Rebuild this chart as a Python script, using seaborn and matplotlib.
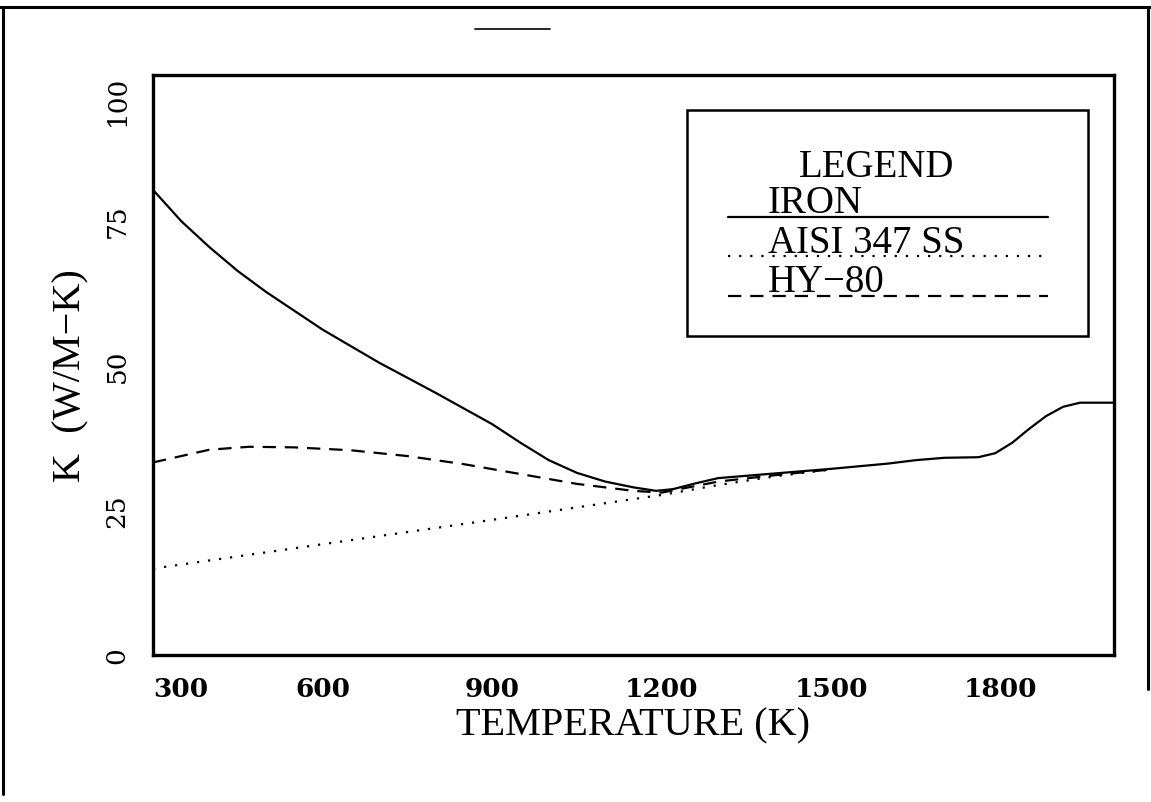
import numpy as np
import pandas as pd
import matplotlib
matplotlib.use("Agg")
import matplotlib.pyplot as plt
from matplotlib.lines import Line2D
from matplotlib.patches import Rectangle
import seaborn as sns

# ---- data ----
iron_T = [300, 350, 400, 450, 500, 600, 700, 800, 900, 950, 1000, 1050, 1100, 1150,
          1190, 1220, 1260, 1300, 1400, 1500, 1600, 1650, 1700, 1760, 1790,
          1820, 1850, 1880, 1910, 1940, 2000]
iron_K = [80.2, 74.8, 70.3, 66.2, 62.6, 56.1, 50.4, 45.2, 39.8, 36.6, 33.6, 31.4, 29.9, 28.9,
          28.3, 28.6, 29.6, 30.5, 31.3, 32.1, 33.0, 33.6, 34.0, 34.1, 34.8,
          36.6, 39.0, 41.2, 42.8, 43.5, 43.5]
aisi_T = [300, 600, 900, 1200, 1300, 1400, 1500]
aisi_K = [14.9, 19.1, 23.3, 27.6, 29.3, 30.8, 32.0]
hy80_T = [300, 400, 470, 550, 650, 750, 850, 950, 1050, 1150, 1200, 1300, 1400, 1500]
hy80_K = [33.2, 35.4, 35.9, 35.8, 35.3, 34.3, 32.9, 31.2, 29.5, 28.3, 28.0, 29.9, 31.0, 32.0]

x_ticks = [300, 600, 900, 1200, 1500, 1800]
y_ticks = [0, 25, 50, 75, 100]
legend_names = ["IRON", "AISI 347 SS", "HY-80"]

sns.set_theme(style="white")
plt.rcParams["font.family"] = ["DejaVu Serif"]
plt.rcParams["text.color"] = "black"
plt.rcParams["axes.labelcolor"] = "black"
plt.rcParams["xtick.color"] = "black"
plt.rcParams["ytick.color"] = "black"

fig = plt.figure(figsize=(11.51, 8.03), dpi=100)
ax = fig.add_axes([153/1151, 1-656/803, (1114-153)/1151, (656-76)/803])

lw = 1.6
sns.lineplot(data=pd.DataFrame({"T": iron_T, "K": iron_K}), x="T", y="K", ax=ax,
             color="black", lw=lw, estimator=None, sort=False)
sns.lineplot(data=pd.DataFrame({"T": aisi_T, "K": aisi_K}), x="T", y="K", ax=ax,
             color="black", lw=lw, estimator=None, sort=False, linestyle=(0, (1, 4)))
sns.lineplot(data=pd.DataFrame({"T": hy80_T, "K": hy80_K}), x="T", y="K", ax=ax,
             color="black", lw=lw, estimator=None, sort=False, linestyle=(0, (6, 4)))

ax.set_xlim(300, 2000)
ax.set_ylim(0, 100)
ax.set_xticks(x_ticks)
ax.set_yticks(y_ticks)
ax.set_xticklabels([str(t) for t in x_ticks], fontsize=19, fontweight="bold", color="black")
ax.set_yticklabels([str(t) for t in y_ticks], fontsize=19, rotation=90, va="center", color="black")
ax.get_xticklabels()[0].set_horizontalalignment("left")
ax.get_yticklabels()[-1].set_verticalalignment("top")
ax.tick_params(axis="both", direction="out", length=10, width=1.6, color="black")
ax.tick_params(axis="x", pad=5)
ax.tick_params(axis="y", pad=7)
for s in ax.spines.values():
    s.set_visible(True)
    s.set_color("black")
    s.set_linewidth(2.4)

ax.set_xlabel("TEMPERATURE (K)", fontsize=29, family="Liberation Serif", labelpad=4, color="black")
ax.set_ylabel("K  (W/M\u2212K)", fontsize=29, family="Liberation Serif", labelpad=2, color="black")
ax.yaxis.set_label_coords(-0.066, 0.483)

# legend box (drawn like the original)
ax.add_patch(Rectangle((0.5557, 0.55), 0.973-0.5557, 0.9397-0.55, transform=ax.transAxes,
                       fill=False, edgecolor="black", lw=1.8, zorder=5))
tf = dict(transform=ax.transAxes, family="Liberation Serif", fontsize=28, color="black")
ax.text(0.7534, 0.826, "LEGEND", ha="center", va="baseline", **tf)
ax.text(0.64, 0.7638, legend_names[0], ha="left", va="baseline", **tf)
ax.text(0.64, 0.6948, legend_names[1], ha="left", va="baseline", **tf)
ax.text(0.64, 0.6276, legend_names[2].replace("-", "\u2212"), ha="left", va="baseline", **tf)
ax.add_line(Line2D([0.598, 0.931], [0.7552, 0.7552], transform=ax.transAxes, color="black", lw=lw))
ax.add_line(Line2D([0.598, 0.931], [0.6879, 0.6879], transform=ax.transAxes, color="black", lw=lw,
                   linestyle=(0, (1, 4))))
ax.add_line(Line2D([0.598, 0.931], [0.619, 0.619], transform=ax.transAxes, color="black", lw=lw,
                   linestyle=(0, (6, 4))))

# outer scan frame
fig.add_artist(Line2D([0, 1], [1-8/803, 1-8/803], transform=fig.transFigure, color="black", lw=2.2))
fig.add_artist(Line2D([3/1151, 3/1151], [1-8/803, 1-795/803], transform=fig.transFigure, color="black", lw=2.2))
fig.add_artist(Line2D([1148/1151, 1148/1151], [1-8/803, 1-690/803], transform=fig.transFigure, color="black", lw=2.2))
fig.add_artist(Line2D([475/1151, 550/1151], [1-30/803, 1-30/803], transform=fig.transFigure, color="black", lw=1.2))

fig.savefig("out.png", dpi=100, facecolor="white")
